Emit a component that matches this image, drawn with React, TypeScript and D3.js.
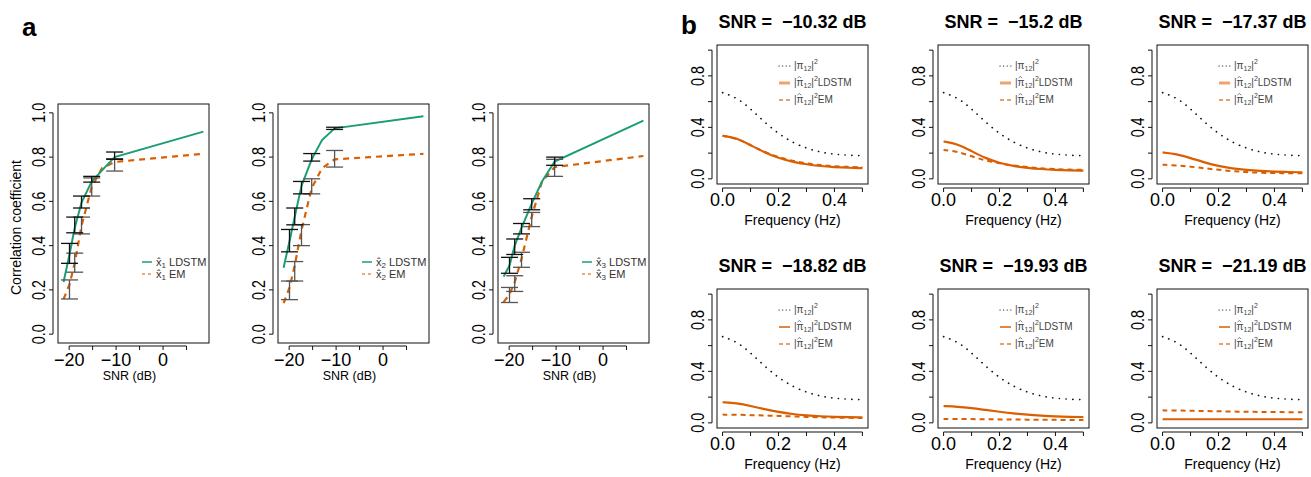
import React from "react";
import * as d3 from "d3";

// ---- panel a data ----
const snr = [-21.19, -19.93, -18.82, -17.37, -15.2, -13, -10.32, 8.6];
const errSnr = [-19.93, -18.82, -17.37, -15.2, -10.32];

const ldstm1 = [0.236, 0.36, 0.48, 0.595, 0.69, 0.74, 0.8, 0.915];
const em1 = [0.158, 0.225, 0.32, 0.49, 0.665, 0.75, 0.778, 0.815];
const ldstmLo1 = [0.32, 0.458, 0.57, 0.687, 0.79];
const ldstmHi1 = [0.41, 0.529, 0.624, 0.713, 0.823];
const emLo1 = [0.159, 0.28, 0.453, 0.624, 0.737];
const emHi1 = [0.245, 0.366, 0.529, 0.706, 0.793];

const ldstm2 = [0.3, 0.42, 0.53, 0.67, 0.79, 0.877, 0.93, 0.985];
const em2 = [0.14, 0.21, 0.31, 0.47, 0.66, 0.75, 0.79, 0.815];
const ldstmLo2 = [0.372, 0.494, 0.634, 0.782, 0.925];
const ldstmHi2 = [0.473, 0.57, 0.69, 0.816, 0.935];
const emLo2 = [0.156, 0.24, 0.4, 0.634, 0.755];
const emHi2 = [0.24, 0.328, 0.495, 0.702, 0.83];

const ldstm3 = [0.26, 0.31, 0.4, 0.48, 0.59, 0.69, 0.78, 0.965];
const em3 = [0.145, 0.18, 0.235, 0.34, 0.53, 0.69, 0.755, 0.805];
const ldstmLo3 = [0.275, 0.36, 0.453, 0.562, 0.763];
const ldstmHi3 = [0.347, 0.43, 0.5, 0.612, 0.8];
const emLo3 = [0.143, 0.193, 0.302, 0.486, 0.713];
const emHi3 = [0.211, 0.264, 0.37, 0.55, 0.79];

const aYTicks = [0, 0.2, 0.4, 0.6, 0.8, 1.0];
const aXTicks = [-20, -15, -10, -5, 0, 5];
const aXLabels = [-20, -10, 0];

// ---- panel b data ----
const freq = [0, 0.05, 0.1, 0.15, 0.2, 0.25, 0.3, 0.35, 0.4, 0.45, 0.5];
const truth = [0.67, 0.632, 0.545, 0.44, 0.35, 0.283, 0.237, 0.207, 0.191, 0.183, 0.18];
const bTitles = ["−10.32", "−15.2", "−17.37", "−18.82", "−19.93", "−21.19"];
const bLdstm = [
  [0.335, 0.318, 0.262, 0.205, 0.162, 0.132, 0.112, 0.099, 0.091, 0.086, 0.083],
  [0.29, 0.272, 0.215, 0.16, 0.123, 0.099, 0.085, 0.076, 0.07, 0.066, 0.064],
  [0.205, 0.193, 0.162, 0.127, 0.099, 0.081, 0.069, 0.061, 0.056, 0.053, 0.051],
  [0.16, 0.153, 0.132, 0.106, 0.084, 0.068, 0.058, 0.051, 0.047, 0.044, 0.043],
  [0.13, 0.126, 0.115, 0.1, 0.086, 0.073, 0.063, 0.056, 0.05, 0.047, 0.045],
  [0.028, 0.028, 0.028, 0.028, 0.028, 0.028, 0.028, 0.028, 0.028, 0.028, 0.028],
];
const bEm = [
  [0.335, 0.316, 0.262, 0.208, 0.168, 0.14, 0.12, 0.106, 0.098, 0.093, 0.09],
  [0.225, 0.212, 0.175, 0.143, 0.12, 0.104, 0.091, 0.081, 0.075, 0.072, 0.07],
  [0.11, 0.105, 0.095, 0.082, 0.07, 0.06, 0.052, 0.047, 0.045, 0.044, 0.044],
  [0.064, 0.063, 0.06, 0.057, 0.054, 0.05, 0.046, 0.043, 0.041, 0.039, 0.038],
  [0.03, 0.03, 0.029, 0.028, 0.027, 0.026, 0.025, 0.024, 0.023, 0.023, 0.022],
  [0.097, 0.096, 0.094, 0.092, 0.09, 0.088, 0.086, 0.085, 0.084, 0.083, 0.082],
];
const bYTicks = [0, 0.2, 0.4, 0.6, 0.8, 1.0];
const bYLabels = [0, 0.4, 0.8];
const bXTicks = [0, 0.1, 0.2, 0.3, 0.4, 0.5];
const bXLabels = [0, 0.2, 0.4];

const GREEN = "#1b9e77";
const ORANGE = "#d95f02";
const FONT = "'Liberation Sans', Arial, Helvetica, sans-serif";

const W = 151;
const HA = 239;
const HB = 139;

function SubA({ left, idx, ldstm, em, lLo, lHi, eLo, eHi, showYTitle }: any) {
  const top = 104;
  const x = d3.scaleLinear().domain([-22.38, 9.79]).range([0, W]);
  const y = d3.scaleLinear().domain([-0.04, 1.04]).range([HA, 0]);
  const line = d3
    .line<number>()
    .x((_, i) => x(snr[i]))
    .y((d) => y(d));
  const cap = 8.5;
  const bars = (lo: number[], hi: number[], col: string) =>
    errSnr.map((s, i) => (
      <g key={col + i} stroke={col} strokeWidth={1.3}>
        <line x1={x(s)} x2={x(s)} y1={y(lo[i])} y2={y(hi[i])} />
        <line x1={x(s) - cap} x2={x(s) + cap} y1={y(lo[i])} y2={y(lo[i])} />
        <line x1={x(s) - cap} x2={x(s) + cap} y1={y(hi[i])} y2={y(hi[i])} />
      </g>
    ));
  return (
    <g transform={`translate(${left},${top})`}>
      <rect x={0} y={0} width={W} height={HA} fill="none" stroke="#111" strokeWidth={1} />
      {/* y axis */}
      <line x1={-5} x2={-5} y1={y(0)} y2={y(1)} stroke="#111" />
      {aYTicks.map((t) => (
        <g key={t}>
          <line x1={-9} x2={-5} y1={y(t)} y2={y(t)} stroke="#111" />
          <text
            transform={`translate(-13,${y(t)}) rotate(-90)`}
            textAnchor="middle"
            fontSize={18}
            textLength={20}
            lengthAdjust="spacingAndGlyphs"
          >
            {t.toFixed(1)}
          </text>
        </g>
      ))}
      {/* x axis */}
      <line x1={x(-20)} x2={x(5)} y1={HA + 3} y2={HA + 3} stroke="#111" />
      {aXTicks.map((t) => (
        <line key={t} x1={x(t)} x2={x(t)} y1={HA + 3} y2={HA + 7} stroke="#111" />
      ))}
      {aXLabels.map((t) => (
        <text key={t} x={x(t)} y={HA + 23} textAnchor="middle" fontSize={18}>
          {t < 0 ? "−" + Math.abs(t) : t}
        </text>
      ))}
      <text x={W / 2 - 4} y={HA + 37} textAnchor="middle" fontSize={12.5}>
        SNR (dB)
      </text>
      {showYTitle && (
        <text
          transform={`translate(-37,${HA / 2 + 4}) rotate(-90)`}
          textAnchor="middle"
          fontSize={14}
          textLength={135}
          lengthAdjust="spacingAndGlyphs"
        >
          Correlation coefficient
        </text>
      )}
      {/* curves */}
      <path d={line(em) || ""} fill="none" stroke={ORANGE} strokeWidth={2.2} strokeDasharray="6,5" />
      <path d={line(ldstm) || ""} fill="none" stroke={GREEN} strokeWidth={2} />
      {bars(eLo, eHi, "#555")}
      {bars(lLo, lHi, "#111")}
      {/* legend */}
      <g fontSize={11} fill="#333">
        <line x1={84} x2={94} y1={158} y2={158} stroke={GREEN} strokeWidth={1.5} />
        <text x={98} y={162}>
          x̂<tspan fontSize={8} dy={2}>{idx}</tspan>
          <tspan dy={-2}> LDSTM</tspan>
        </text>
        <line x1={84} x2={94} y1={170} y2={170} stroke={ORANGE} strokeOpacity={0.7} strokeWidth={1.5} strokeDasharray="3,3" />
        <text x={98} y={174}>
          x̂<tspan fontSize={8} dy={2}>{idx}</tspan>
          <tspan dy={-2}> EM</tspan>
        </text>
      </g>
    </g>
  );
}

function PiLabel({ suffix }: { suffix: string }) {
  return (
    <>
      |π
      <tspan fontSize={7} dy={2}>12</tspan>
      <tspan dy={-2}>|</tspan>
      <tspan fontSize={7} dy={-5}>2</tspan>
      <tspan dy={5}>{suffix}</tspan>
    </>
  );
}

function Hat({ x, y }: { x: number; y: number }) {
  return (
    <polyline
      points={`${x - 1.8},${y + 1.6} ${x},${y} ${x + 1.8},${y + 1.6}`}
      fill="none"
      stroke="#444"
      strokeWidth={0.7}
    />
  );
}

function SubB({ k }: { k: number }) {
  const col = k % 3;
  const row = Math.floor(k / 3);
  const left = [717, 938, 1157][col];
  const top = [45, 289][row];
  const x = d3.scaleLinear().domain([-0.02, 0.52]).range([0, W]);
  const y = d3.scaleLinear().domain([-0.04, 1.04]).range([HB, 0]);
  const line = d3
    .line<number>()
    .x((_, i) => x(freq[i]))
    .y((d) => y(d))
    .curve(d3.curveBasis);
  const topRow = row === 0;
  return (
    <g transform={`translate(${left},${top})`}>
      <text
        x={W / 2}
        y={-17}
        textAnchor="middle"
        fontSize={18}
        fontWeight="bold"
        style={{ whiteSpace: "pre" }}
      >
        {"SNR =  " + bTitles[k] + " dB"}
      </text>
      <rect x={0} y={0} width={W} height={HB} fill="none" stroke="#111" strokeWidth={1} />
      <line x1={-5} x2={-5} y1={y(0)} y2={y(1)} stroke="#111" />
      {bYTicks.map((t) => (
        <line key={t} x1={-9} x2={-5} y1={y(t)} y2={y(t)} stroke="#111" />
      ))}
      {bYLabels.map((t) => (
        <text
          key={t}
          transform={`translate(-13,${y(t)}) rotate(-90)`}
          textAnchor="middle"
          fontSize={18}
          textLength={20}
          lengthAdjust="spacingAndGlyphs"
        >
          {t.toFixed(1)}
        </text>
      ))}
      <line x1={x(0)} x2={x(0.5)} y1={HB + 4} y2={HB + 4} stroke="#111" />
      {bXTicks.map((t) => (
        <line key={t} x1={x(t)} x2={x(t)} y1={HB + 4} y2={HB + 8} stroke="#111" />
      ))}
      {bXLabels.map((t) => (
        <text key={t} x={x(t)} y={HB + 22} textAnchor="middle" fontSize={18}>
          {t.toFixed(1)}
        </text>
      ))}
      <text x={W / 2} y={HB + 41} textAnchor="middle" fontSize={14}>
        Frequency (Hz)
      </text>
      <path
        d={line(truth) || ""}
        fill="none"
        stroke="#111"
        strokeWidth={1.7}
        strokeDasharray="0.1,6.6"
        strokeLinecap="round"
      />
      <path d={line(bEm[k]) || ""} fill="none" stroke={ORANGE} strokeWidth={2} strokeDasharray="5,4" />
      <path d={line(bLdstm[k]) || ""} fill="none" stroke={ORANGE} strokeWidth={2.2} />
      {/* legend */}
      <g fontSize={10} fill="#444">
        <line x1={62} x2={73} y1={21} y2={21} stroke="#111" strokeWidth={1.2} strokeDasharray="0.1,3.5" strokeLinecap="round" />
        <text x={77} y={24}>
          <PiLabel suffix="" />
        </text>
        <line
          x1={62}
          x2={73}
          y1={38}
          y2={38}
          stroke={topRow ? "#f0a36a" : ORANGE}
          strokeWidth={topRow ? 3 : 1.5}
        />
        <text x={77} y={41}>
          <PiLabel suffix="LDSTM" />
        </text>
        <Hat x={82.4} y={31.5} />
        <line x1={62} x2={73} y1={55} y2={55} stroke={ORANGE} strokeOpacity={0.8} strokeWidth={1.5} strokeDasharray="4,3" />
        <text x={77} y={58}>
          <PiLabel suffix="EM" />
        </text>
        <Hat x={82.4} y={48.5} />
      </g>
    </g>
  );
}

export default function App() {
  return (
    <svg
      width={1311}
      height={477}
      style={{ position: "absolute", left: 0, top: 0, background: "#fff" }}
      fontFamily={FONT}
    >
      <text x={22} y={36} fontSize={26} fontWeight="bold">
        a
      </text>
      <text x={681} y={34} fontSize={26} fontWeight="bold">
        b
      </text>
      <SubA left={58} idx={1} ldstm={ldstm1} em={em1} lLo={ldstmLo1} lHi={ldstmHi1} eLo={emLo1} eHi={emHi1} showYTitle />
      <SubA left={278} idx={2} ldstm={ldstm2} em={em2} lLo={ldstmLo2} lHi={ldstmHi2} eLo={emLo2} eHi={emHi2} />
      <SubA left={498} idx={3} ldstm={ldstm3} em={em3} lLo={ldstmLo3} lHi={ldstmHi3} eLo={emLo3} eHi={emHi3} />
      {[0, 1, 2, 3, 4, 5].map((k) => (
        <SubB key={k} k={k} />
      ))}
    </svg>
  );
}
